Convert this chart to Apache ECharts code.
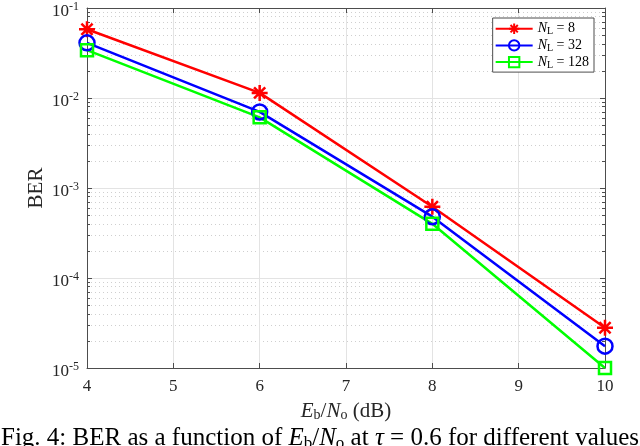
<!DOCTYPE html>
<html>
<head>
<meta charset="UTF-8">
<script src="https://cdn.jsdelivr.net/npm/echarts@6/dist/echarts.min.js"></script>
</head>
<body style="margin:0">
<div id="main" style="width:640px;height:446px;"></div>
<script>
// Eb/No points (dB)
var snr = [4, 6, 8, 10];
// BER
var berN8 = [0.058, 0.0114, 6.2e-4, 2.8e-5];
var berN32 = [0.041, 0.0070, 4.8e-4, 1.75e-5];
var berN128 = [0.034, 0.0061, 4.0e-4, 1.0e-5];
var seriesNames = ['8', '32', '128'];
var seriesColors = ['#ff0000', '#0000ff', '#00ff00'];

var serif = 'Liberation Serif';
var axisCol = '#4d4d4d';
var textCol = '#262626';

var asterisk = 'path://M0,-10L0,10M-10,0L10,0M-7,-7L7,7M-7,7L7,-7';

function pairs(ys) {
    return snr.map(function (x, i) { return [x, ys[i]]; });
}

var myChart = echarts.init(document.getElementById('main'));

var option = {
    backgroundColor: '#fff',
    animation: false,
    title: {
        text: 'Fig. 4: BER as a function of {i|E}{s|b}/{i|N}{s|o} at {i|τ} = 0.6 for different values',
        left: -4,
        top: 420,
        textStyle: {
            fontFamily: serif,
            fontWeight: 'normal',
            fontSize: 25,
            color: '#000',
            rich: {
                i: {fontFamily: serif, fontStyle: 'italic', fontSize: 25, color: '#000'},
                s: {fontFamily: serif, fontSize: 17, padding: [10, 0, 0, 0], color: '#000'}
            }
        }
    },
    legend: {
        right: 46,
        top: 18,
        orient: 'vertical',
        backgroundColor: '#fff',
        borderColor: axisCol,
        borderWidth: 1,
        borderRadius: 0,
        padding: [3, 5, 2, 2],
        itemGap: 1,
        itemWidth: 37,
        itemHeight: 13,
        formatter: function (name) {
            return '{n|N}{s|L}{t| = ' + name + '}';
        },
        textStyle: {
            fontFamily: serif,
            fontSize: 14,
            color: '#000',
            rich: {
                n: {fontFamily: serif, fontStyle: 'italic', fontSize: 14},
                s: {fontFamily: serif, fontSize: 10, padding: [6, 0, 0, 0]},
                t: {fontFamily: serif, fontSize: 14}
            }
        },
        data: seriesNames
    },
    grid: {left: 87, right: 35, top: 8, bottom: 78},
    xAxis: [{
        type: 'value',
        min: 4,
        max: 10,
        interval: 1,
        name: '{i|E}{s|b}{t|/}{i|N}{s|o}{t| (dB)}',
        nameLocation: 'middle',
        nameGap: 32,
        nameTextStyle: {
            rich: {
                i: {fontFamily: serif, fontStyle: 'italic', fontSize: 21, color: textCol},
                s: {fontFamily: serif, fontSize: 14, padding: [8, 0, 0, 0], color: textCol},
                t: {fontFamily: serif, fontSize: 21, color: textCol}
            }
        },
        axisLine: {onZero: false, lineStyle: {color: axisCol, width: 1}},
        axisTick: {inside: true, length: 5, lineStyle: {color: axisCol}},
        axisLabel: {fontFamily: serif, fontSize: 17, color: textCol, margin: 10},
        splitLine: {show: true, lineStyle: {color: '#e3e3e3', width: 1}}
    }, {
        type: 'value',
        position: 'top',
        min: 4,
        max: 10,
        interval: 1,
        axisLine: {onZero: false, lineStyle: {color: axisCol, width: 1}},
        axisTick: {inside: true, length: 5, lineStyle: {color: axisCol}},
        axisLabel: {show: false},
        splitLine: {show: false}
    }],
    yAxis: [{
        type: 'log',
        logBase: 10,
        min: 1e-5,
        max: 1e-1,
        name: 'BER',
        nameLocation: 'middle',
        nameGap: 40,
        nameMoveOverlap: false,
        nameTextStyle: {fontFamily: serif, fontSize: 21, color: textCol},
        axisLine: {onZero: false, lineStyle: {color: axisCol, width: 1}},
        axisTick: {inside: true, length: 5, lineStyle: {color: axisCol}},
        minorTick: {show: true, splitNumber: 9, length: 3, lineStyle: {color: axisCol}},
        minorSplitLine: {show: true, lineStyle: {color: '#cfcfcf', type: [1, 3], width: 1}},
        axisLabel: {
            margin: 8,
            formatter: function (v) {
                return '{b|10}{e|' + Math.round(Math.log10(v)) + '}';
            },
            rich: {
                b: {fontFamily: serif, fontSize: 17, color: textCol, padding: [8, 0, 0, 0]},
                e: {fontFamily: serif, fontSize: 12, color: textCol, padding: [0, 0, 2, 0]}
            }
        },
        splitLine: {show: true, lineStyle: {color: '#e3e3e3', width: 1}}
    }, {
        type: 'log',
        logBase: 10,
        min: 1e-5,
        max: 1e-1,
        position: 'right',
        axisLine: {onZero: false, lineStyle: {color: axisCol, width: 1}},
        axisTick: {inside: true, length: 5, lineStyle: {color: axisCol}},
        minorTick: {show: true, splitNumber: 9, length: 3, lineStyle: {color: axisCol}},
        axisLabel: {show: false},
        splitLine: {show: false}
    }],
    series: [{
        name: seriesNames[0],
        type: 'line',
        data: pairs(berN8),
        symbol: asterisk,
        symbolSize: 16,
        color: seriesColors[0],
        lineStyle: {width: 2.5, color: seriesColors[0]},
        itemStyle: {color: 'none', borderColor: seriesColors[0], borderWidth: 2.5}
    }, {
        name: seriesNames[1],
        type: 'line',
        data: pairs(berN32),
        symbol: 'circle',
        symbolSize: 15,
        color: seriesColors[1],
        lineStyle: {width: 2.5, color: seriesColors[1]},
        itemStyle: {color: 'none', borderColor: seriesColors[1], borderWidth: 2.5}
    }, {
        name: seriesNames[2],
        type: 'line',
        data: pairs(berN128),
        symbol: 'rect',
        symbolSize: 12,
        color: seriesColors[2],
        lineStyle: {width: 2.5, color: seriesColors[2]},
        itemStyle: {color: 'none', borderColor: seriesColors[2], borderWidth: 2.5}
    }]
};

myChart.setOption(option);
</script>
</body>
</html>
